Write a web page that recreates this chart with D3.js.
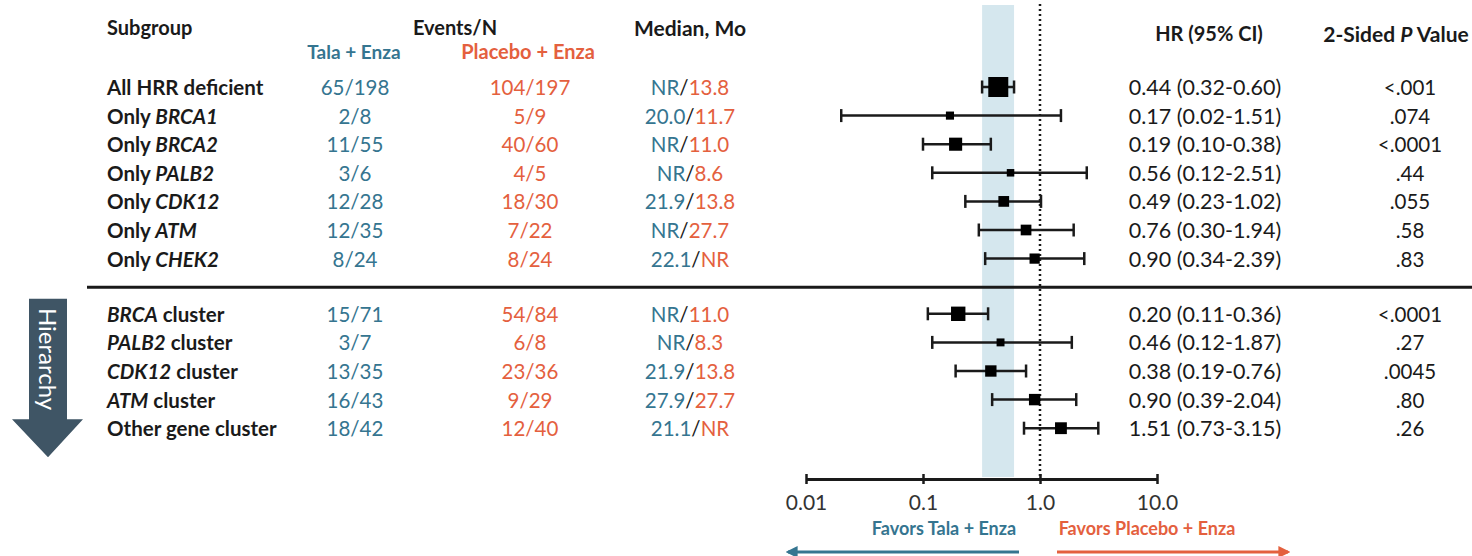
<!DOCTYPE html>
<html>
<head>
<meta charset="utf-8">
<script src="https://cdn.jsdelivr.net/npm/d3@7"></script>
<style>
  html, body { margin: 0; padding: 0; background: #fff; }
  svg { display: block; font-family: Lato, "Open Sans", sans-serif; }
</style>
</head>
<body>
<div id="chart"></div>
<script>
// ── Data ─────────────────────────────────────────
// |...| marks the italic gene name inside a label
const SUBGROUPS = [
  "All HRR deficient", "Only |BRCA1|", "Only |BRCA2|", "Only |PALB2|",
  "Only |CDK12|", "Only |ATM|", "Only |CHEK2|",
  "|BRCA| cluster", "|PALB2| cluster", "|CDK12| cluster", "|ATM| cluster",
  "Other gene cluster"
];
const TALA_EVENTS    = ["65/198","2/8","11/55","3/6","12/28","12/35","8/24","15/71","3/7","13/35","16/43","18/42"];
const PLACEBO_EVENTS = ["104/197","5/9","40/60","4/5","18/30","7/22","8/24","54/84","6/8","23/36","9/29","12/40"];
const TALA_MEDIAN    = ["NR","20.0","NR","NR","21.9","NR","22.1","NR","NR","21.9","27.9","21.1"];
const PLACEBO_MEDIAN = ["13.8","11.7","11.0","8.6","13.8","27.7","NR","11.0","8.3","13.8","27.7","NR"];
const HR       = [0.44, 0.17, 0.19, 0.56, 0.49, 0.76, 0.90, 0.20, 0.46, 0.38, 0.90, 1.51];
const CI_LOW   = [0.32, 0.02, 0.10, 0.12, 0.23, 0.30, 0.34, 0.11, 0.12, 0.19, 0.39, 0.73];
const CI_HIGH  = [0.60, 1.51, 0.38, 2.51, 1.02, 1.94, 2.39, 0.36, 1.87, 0.76, 2.04, 3.15];
const P_VALUES = ["<.001",".074","<.0001",".44",".055",".58",".83","<.0001",".27",".0045",".80",".26"];
const AXIS_TICKS  = [0.01, 0.1, 1, 10];
const TICK_LABELS = ["0.01", "0.1", "1.0", "10.0"];

const BLUE = "#357590";
const RED  = "#e4603e";
const INK  = "#1a1a1a";

const W = 1472, H = 556;
const svg = d3.select("#chart").append("svg").attr("width", W).attr("height", H);

// ── Scales ───────────────────────────────────────
// first block rows 0–6, gap, second block rows 7–11
const rowPos = i => i < 7 ? i : i + 0.93;
const y = d3.scaleLinear().domain([0, 12]).range([87, 87 + 28.6 * 12]);
const x = d3.scaleLog().domain([0.01, 10]).range([806, 1157]);
const totalN = TALA_EVENTS.map((t, i) => +t.split("/")[1] + +PLACEBO_EVENTS[i].split("/")[1]);
const size = d3.scaleSqrt().domain([0, d3.max(totalN)]).range([5, 20]);
const fmt = d3.format(".2f");

const rows = SUBGROUPS.map((label, i) => ({
  label, i, yy: y(rowPos(i)),
  tala: TALA_EVENTS[i], placebo: PLACEBO_EVENTS[i],
  mt: TALA_MEDIAN[i], mp: PLACEBO_MEDIAN[i],
  hr: HR[i], lo: CI_LOW[i], hi: CI_HIGH[i], p: P_VALUES[i], n: totalN[i]
}));

// ── Reference band + null line ───────────────────
svg.append("rect")
  .attr("x", x(CI_LOW[0])).attr("width", x(CI_HIGH[0]) - x(CI_LOW[0]))
  .attr("y", 5).attr("height", 472)
  .attr("fill", "#d5e7ee");

svg.append("line")
  .attr("x1", x(1)).attr("x2", x(1))
  .attr("y1", 4).attr("y2", 478)
  .attr("stroke", INK).attr("stroke-width", 2.5)
  .attr("stroke-dasharray", "2,3");

// ── Headers ──────────────────────────────────────
const head = svg.append("g").attr("font-weight", 700).attr("font-size", 20)
  .attr("fill", INK).attr("dominant-baseline", "central");
head.append("text").attr("x", 107).attr("y", 27).text("Subgroup");
head.append("text").attr("x", 455).attr("y", 27).attr("text-anchor", "middle").text("Events/N");
head.append("text").attr("x", 690).attr("y", 27).attr("text-anchor", "middle")
  .attr("font-size", 21).text("Median, Mo");
head.append("text").attr("x", 1209).attr("y", 33).attr("text-anchor", "middle").text("HR (95% CI)");
const pHead = head.append("text").attr("x", 1396).attr("y", 33).attr("text-anchor", "middle")
  .attr("font-size", 21);
pHead.append("tspan").text("2-Sided ");
pHead.append("tspan").attr("font-style", "italic").text("P");
pHead.append("tspan").text(" Value");
head.append("text").attr("x", 354).attr("y", 51).attr("text-anchor", "middle")
  .attr("font-size", 19).attr("fill", BLUE).text("Tala + Enza");
head.append("text").attr("x", 528).attr("y", 51).attr("text-anchor", "middle")
  .attr("font-size", 20).attr("fill", RED).text("Placebo + Enza");

// ── Table rows ───────────────────────────────────
const rowG = svg.append("g").attr("font-size", 20.5).attr("dominant-baseline", "central")
  .selectAll("g").data(rows).join("g")
  .attr("transform", d => `translate(0,${d.yy})`);

const lab = rowG.append("text").attr("x", 107).attr("font-weight", 700).attr("fill", INK);
lab.each(function (d) {
  const t = d3.select(this);
  d.label.split("|").forEach((part, k) => {
    if (!part) return;
    t.append("tspan").attr("font-style", k % 2 ? "italic" : "normal").text(part);
  });
});

rowG.append("text").attr("x", 355).attr("text-anchor", "middle").attr("fill", BLUE).text(d => d.tala);
rowG.append("text").attr("x", 530).attr("text-anchor", "middle").attr("fill", RED).text(d => d.placebo);

const med = rowG.append("text").attr("x", 690).attr("text-anchor", "middle");
med.append("tspan").attr("fill", BLUE).text(d => d.mt);
med.append("tspan").attr("fill", INK).text("/");
med.append("tspan").attr("fill", RED).text(d => d.mp);

rowG.append("text").attr("x", 1205).attr("text-anchor", "middle").attr("fill", INK)
  .attr("font-size", 21.5)
  .text(d => `${fmt(d.hr)} (${fmt(d.lo)}-${fmt(d.hi)})`);
rowG.append("text").attr("x", 1410).attr("text-anchor", "middle").attr("fill", INK)
  .text(d => d.p);

// ── CI whiskers + squares ────────────────────────
const ci = svg.append("g").selectAll("g").data(rows).join("g")
  .attr("transform", d => `translate(0,${d.yy})`);
ci.append("line")
  .attr("x1", d => x(d.lo)).attr("x2", d => x(d.hi))
  .attr("stroke", INK).attr("stroke-width", 2.5);
["lo", "hi"].forEach(k => {
  ci.append("line")
    .attr("x1", d => x(d[k])).attr("x2", d => x(d[k]))
    .attr("y1", -6.5).attr("y2", 6.5)
    .attr("stroke", INK).attr("stroke-width", 2.5);
});
ci.append("rect")
  .attr("x", d => x(d.hr) - size(d.n) / 2).attr("y", d => -size(d.n) / 2)
  .attr("width", d => size(d.n)).attr("height", d => size(d.n))
  .attr("fill", "#000");

// ── Section divider ──────────────────────────────
svg.append("line")
  .attr("x1", 87).attr("x2", W)
  .attr("y1", y(7)).attr("y2", y(7))
  .attr("stroke", INK).attr("stroke-width", 3);

// ── Hierarchy arrow ──────────────────────────────
const yTop = y(rowPos(7)) - 15, yNeck = y(rowPos(11)) - 9, yTip = yNeck + 38;
svg.append("path")
  .attr("d", `M29,${yTop}H67V${yNeck}H83L48,${yTip}L12,${yNeck}H29Z`)
  .attr("fill", "#3f5565");
svg.append("text")
  .attr("transform", `translate(48,${(yTop + yNeck) / 2}) rotate(90)`)
  .attr("text-anchor", "middle").attr("dominant-baseline", "central")
  .attr("font-size", 24).attr("fill", "#fff").text("Hierarchy");

// ── X axis (log) ─────────────────────────────────
const axisY = 479;
const ax = svg.append("g").attr("transform", `translate(0,${axisY})`)
  .call(d3.axisBottom(x).tickValues(AXIS_TICKS).tickSize(5).tickSizeOuter(0)
    .tickFormat((d, i) => TICK_LABELS[i]));
ax.select(".domain").attr("stroke", INK).attr("stroke-width", 3);
ax.selectAll(".tick line").attr("y1", -5).attr("stroke", INK).attr("stroke-width", 2.5);
ax.selectAll(".tick text")
  .attr("y", 16).attr("font-size", 21).attr("fill", "#333")
  .attr("font-family", "Lato, 'Open Sans', sans-serif");

// ── Favours labels + arrows ──────────────────────
svg.append("text").attr("x", 944).attr("y", 528).attr("text-anchor", "middle")
  .attr("dominant-baseline", "central").attr("font-size", 18).attr("font-weight", 700)
  .attr("fill", BLUE).text("Favors Tala + Enza");
svg.append("text").attr("x", 1147).attr("y", 528).attr("text-anchor", "middle")
  .attr("dominant-baseline", "central").attr("font-size", 18).attr("font-weight", 700)
  .attr("fill", RED).text("Favors Placebo + Enza");

const defs = svg.append("defs");
[["blueHead", BLUE], ["redHead", RED]].forEach(([id, c]) => {
  defs.append("marker").attr("id", id)
    .attr("viewBox", "0 0 10 10").attr("refX", 8).attr("refY", 5)
    .attr("markerWidth", 4).attr("markerHeight", 4).attr("orient", "auto")
    .append("path").attr("d", "M0,0L10,5L0,10Z").attr("fill", c);
});
svg.append("line").attr("x1", 1019).attr("x2", 788).attr("y1", 552).attr("y2", 552)
  .attr("stroke", BLUE).attr("stroke-width", 3).attr("marker-end", "url(#blueHead)");
svg.append("line").attr("x1", 1057).attr("x2", 1288).attr("y1", 552).attr("y2", 552)
  .attr("stroke", RED).attr("stroke-width", 3).attr("marker-end", "url(#redHead)");
</script>
</body>
</html>
